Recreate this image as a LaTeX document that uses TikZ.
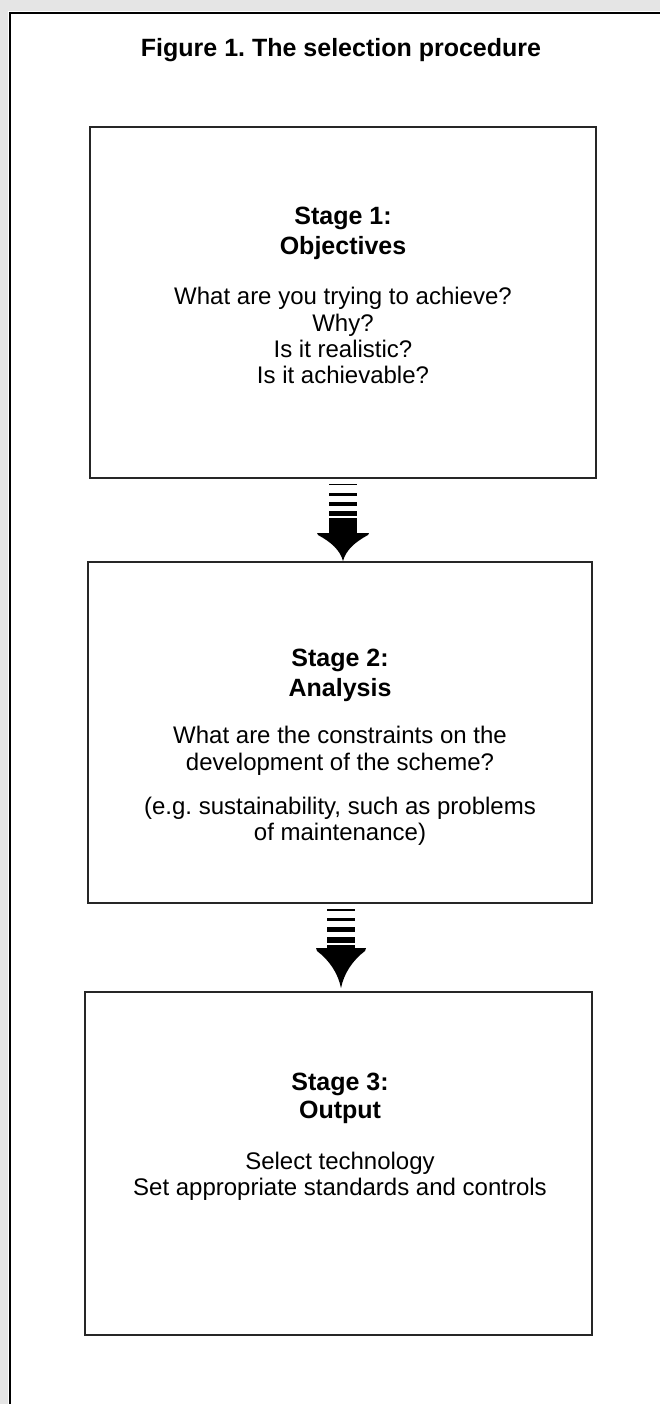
\documentclass[tikz,border=0pt]{standalone}
\usepackage{fontspec}
\setmainfont{Liberation Sans}
\frenchspacing
\begin{document}
\begin{tikzpicture}[x=1pt,y=-1pt,
  stagebox/.style={draw=black!85,line width=1.5pt,rectangle,inner sep=0pt},
  body/.style={anchor=base,inner sep=0pt,font=\fontsize{24}{26}\selectfont},
  head/.style={anchor=base,inner sep=0pt,font=\fontsize{25}{29}\selectfont\bfseries},
  arrowink/.style={fill=black,draw=none}]
\useasboundingbox (0,0) rectangle (660,1404);
% scan margin
\fill[black!10] (0,0) rectangle (660,11);
\fill[black!10] (0,0) rectangle (8,1404);
% outer frame (only top and left visible)
\draw[line width=2.5pt] (10,1410) -- (10,13) -- (670,13);
% title
\node[head] (title) at (341,57) {Figure 1. The selection procedure};
% boxes
\node[stagebox,minimum width=506pt,minimum height=351pt] (s1) at (343,302.5) {};
\node[stagebox,minimum width=504pt,minimum height=341pt] (s2) at (340,732.5) {};
\node[stagebox,minimum width=507pt,minimum height=343pt] (s3) at (338.5,1163.5) {};
% stage 1 text
\node[head] (s1a) at (343,225) {Stage 1:};
\node[head] (s1b) at (343,255) {Objectives};
\node[body] (s1c) at (343,305) {What are you trying to achieve?};
\node[body] (s1d) at (343,331) {Why?};
\node[body] (s1e) at (343,357) {Is it realistic?};
\node[body] (s1f) at (343,383) {Is it achievable?};
% stage 2 text
\node[head] (s2a) at (340,666) {Stage 2:};
\node[head] (s2b) at (340,696) {Analysis};
\node[body] (s2c) at (340,743) {What are the constraints on the};
\node[body] (s2d) at (340,770) {development of the scheme?};
\node[body] (s2e) at (340,814) {(e.g. sustainability, such as problems};
\node[body] (s2f) at (340,840) {of maintenance)};
% stage 3 text
\node[head] (s3a) at (340,1090) {Stage 3:};
\node[head] (s3b) at (340,1118) {Output};
\node[body] (s3c) at (340,1169) {Select technology};
\node[body] (s3d) at (340,1195) {Set appropriate standards and controls};
% arrow 1
\begin{scope}[shift={(343,480)}]
  \fill[arrowink] (-14,3.5) rectangle (14,5.2);
  \fill[arrowink] (-14,13) rectangle (14,15.5);
  \fill[arrowink] (-14,21.5) rectangle (14,25.5);
  \fill[arrowink] (-14,31) rectangle (14,36);
  \fill[arrowink] (-14,38) rectangle (14,54);
  \fill[arrowink] (-26,53) -- (26,53) -- (25,55) .. controls (12,62) and (3,70) .. (0,81)
     .. controls (-3,70) and (-12,62) .. (-25,55) -- cycle;
\end{scope}
% arrow 2
\begin{scope}[shift={(341,903)}]
  \fill[arrowink] (-14,5.5) rectangle (14,7.5);
  \fill[arrowink] (-14,15) rectangle (14,17.8);
  \fill[arrowink] (-14,24) rectangle (14,28.5);
  \fill[arrowink] (-14,33.5) rectangle (14,39.5);
  \fill[arrowink] (-14,41.5) rectangle (14,46);
  \fill[arrowink] (-25,45) -- (25,45) -- (24,48) .. controls (12,57) and (3,70) .. (0,85)
     .. controls (-3,70) and (-12,57) .. (-24,48) -- cycle;
\end{scope}
\end{tikzpicture}
\end{document}
